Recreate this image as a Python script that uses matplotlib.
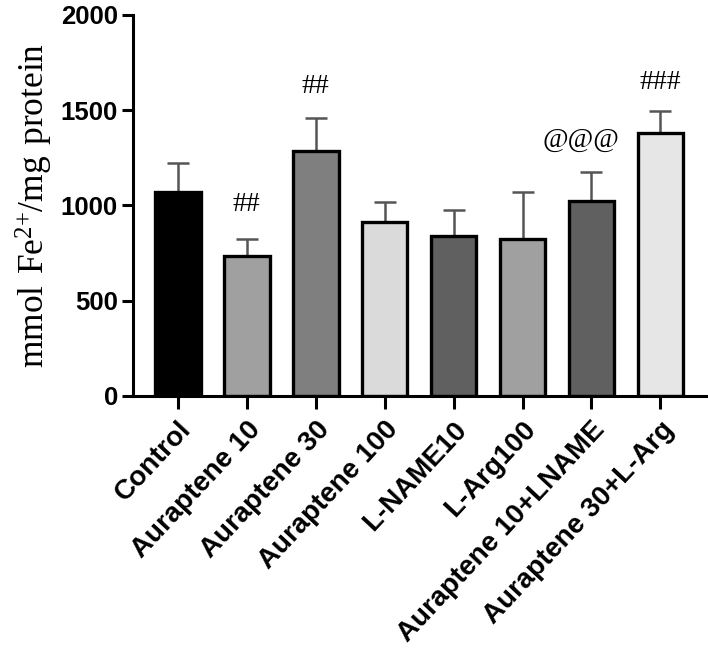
import matplotlib.pyplot as plt
import numpy as np

plt.rcParams['mathtext.fontset'] = 'custom'
plt.rcParams['mathtext.rm'] = 'Liberation Serif'

groups = ['Control', 'Auraptene 10', 'Auraptene 30', 'Auraptene 100',
          'L-NAME10', 'L-Arg100', 'Auraptene 10+LNAME', 'Auraptene 30+L-Arg']
means = [1072, 736, 1286, 915, 840, 824, 1025, 1379]
errs = [149, 90, 173, 102, 136, 245, 152, 117]
fills = ['#000000', '#a0a0a0', '#7f7f7f', '#dadada',
         '#606060', '#a0a0a0', '#606060', '#e6e6e6']
marks = ['', '##', '##', '', '', '', '@@@', '###']
mark_y = [0, 1007, 1622, 0, 0, 0, 1344, 1643]

fig = plt.figure(figsize=(7.08, 6.52), dpi=100)
ax = fig.add_axes([0.188, 0.393, 0.809, 0.584])

x = np.arange(len(groups))
ax.bar(x, means, width=0.66, color=fills, edgecolor='black', linewidth=2.4, zorder=2)
ax.errorbar(x, means, yerr=[np.zeros(len(errs)), errs], fmt='none',
            ecolor='#555555', elinewidth=1.8, capsize=8, capthick=1.8, zorder=1)

for i, m in enumerate(marks):
    if m:
        dx = -0.15 if m == '@@@' else 0
        ax.text(i + dx, mark_y[i], m, ha='center', va='center',
                fontsize=20, family='Liberation Serif')

ax.set_xlim(-0.65, 7.66)
ax.set_ylim(0, 2000)
ax.set_yticks([0, 500, 1000, 1500, 2000])
ax.set_xticks(x)
ax.set_xticklabels(groups, rotation=47, ha='right', rotation_mode='anchor',
                   fontsize=20, fontweight='bold', family='Liberation Sans')
for lab in ax.get_yticklabels():
    lab.set_fontsize(18.5)
    lab.set_fontweight('bold')
    lab.set_family('Liberation Sans')
ax.set_ylabel(r'$\mathrm{mmol\ Fe^{2{+}}/mg\ protein}$', fontsize=25.5,
              labelpad=4)

ax.spines['top'].set_visible(False)
ax.spines['right'].set_visible(False)
ax.spines['left'].set_linewidth(2.2)
ax.spines['bottom'].set_linewidth(2.2)
ax.tick_params(axis='both', width=2.2, length=8, pad=3)
ax.tick_params(axis='x', length=9, pad=6)

plt.savefig('out.png', dpi=100)
